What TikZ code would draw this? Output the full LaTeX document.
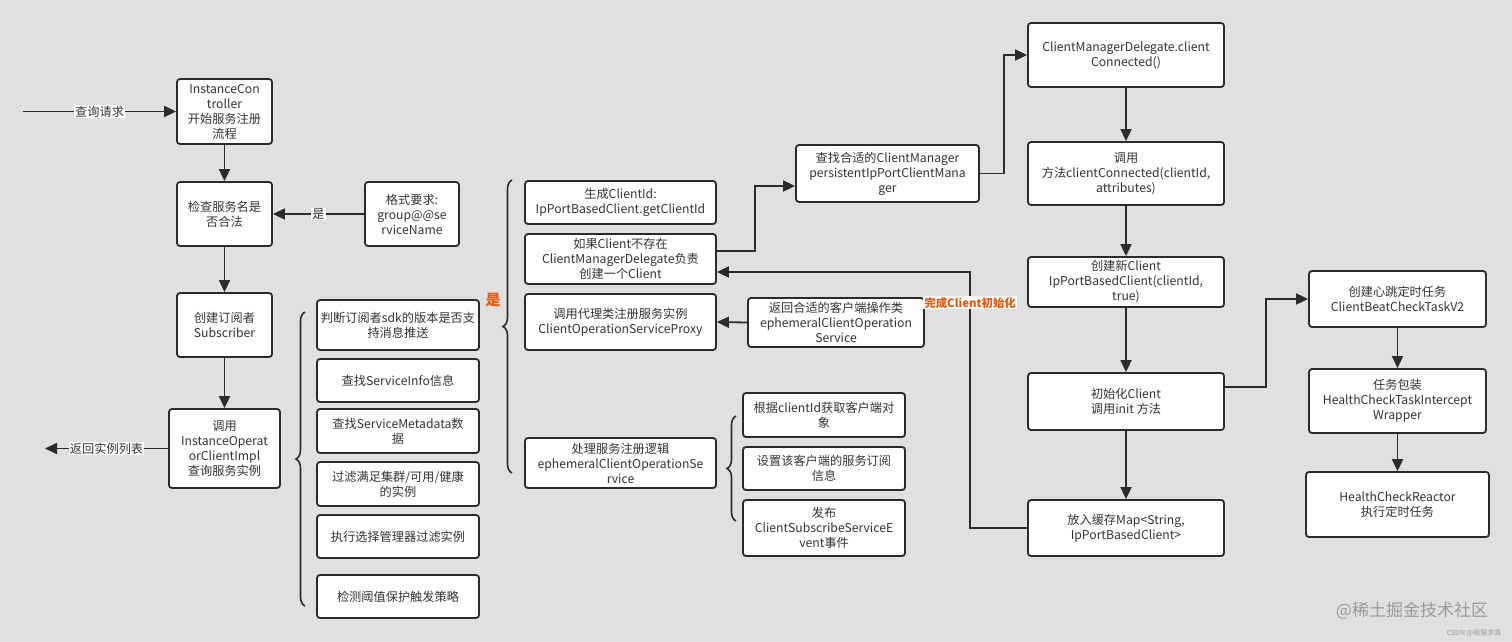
\documentclass[tikz,border=0pt]{standalone}
\usepackage{fontspec}
\setmainfont{Noto Sans CJK SC}
\usetikzlibrary{arrows.meta,decorations.pathreplacing,calc}
\definecolor{bgc}{HTML}{E0E0E0}
\definecolor{linec}{HTML}{2B2B2B}
\definecolor{txt}{HTML}{333333}
\definecolor{orng}{HTML}{E8590C}
\definecolor{wm}{HTML}{9A9A9A}
\newcommand{\fsz}{\fontsize{12.2}{15}\selectfont}
\tikzset{
  box/.style={draw=linec, line width=1.8pt, rounded corners=3pt, fill=white, align=center, inner sep=0pt, font=\fsz, text=txt},
  arr/.style={draw=linec, line width=1.8pt, -{Triangle[length=12pt,width=11pt]}},
  lbl/.style={fill=white, inner sep=1pt, font=\fsz, text=txt},
  olbl/.style={fill=white, inner sep=1pt, font=\fontsize{11.4}{14}\selectfont\bfseries, text=orng},
  brc/.style={draw=linec, line width=1.6pt, decorate, decoration={brace, amplitude=9pt}},
}
\begin{document}
\begin{tikzpicture}[x=1pt,y=1pt]
\fill[bgc] (0,0) rectangle (1512,-642);
\useasboundingbox (0,0) rectangle (1512,-642);

% left column
\node[box, minimum width=95, minimum height=65] (ic) at (224.5,-111.5) {InstanceCon\\troller\\开始服务注册\\流程};
\node[box, minimum width=95, minimum height=64] (chk) at (224.5,-214) {检查服务名是\\否合法};
\node[box, minimum width=94, minimum height=64] (fmt) at (412,-214) {格式要求:\\group@@se\\rviceName};
\node[box, minimum width=95, minimum height=64] (sub) at (224.5,-325) {创建订阅者\\Subscriber};
\node[box, minimum width=111, minimum height=79] (inv) at (224.5,-448.5) {调用\\InstanceOperat\\orClientImpl\\查询服务实例};

\coordinate (qstart) at (23,-111.5);
\coordinate (rend) at (45,-448.5);
\draw[arr] (qstart) -- node[lbl]{查询请求} (ic.west);
\draw[arr] (ic.south) -- (chk.north);
\draw[arr] (fmt.west) -- node[lbl]{是} (chk.east);
\draw[arr] (chk.south) -- (sub.north);
\draw[arr] (sub.south) -- (inv.north);
\draw[arr] (inv.west) -- node[lbl]{返回实例列表} (rend);

% left list
\node[box, minimum width=162, minimum height=50] (l1) at (398,-325) {判断订阅者sdk的版本是否支\\持消息推送};
\node[box, minimum width=162, minimum height=43] (l2) at (398,-380.5) {查找ServiceInfo信息};
\node[box, minimum width=162, minimum height=44] (l3) at (398,-431) {查找ServiceMetadata数\\据};
\node[box, minimum width=162, minimum height=44] (l4) at (398,-484) {过滤满足集群/可用/健康\\的实例};
\node[box, minimum width=162, minimum height=43] (l5) at (398,-536.5) {执行选择管理器过滤实例};
\node[box, minimum width=162, minimum height=43] (l6) at (398,-596.5) {检测阈值保护触发策略};
\draw[brc] (305,-606) -- (305,-312);

% middle column
\node[box, minimum width=191, minimum height=43] (m1) at (620.5,-202.5) {生成ClientId:\\IpPortBasedClient.getClientId};
\node[box, minimum width=191, minimum height=50] (m2) at (620.5,-259) {如果Client不存在\\ClientManagerDelegate负责\\创建一个Client};
\node[box, minimum width=191, minimum height=56] (m3) at (620.5,-322) {调用代理类注册服务实例\\ClientOperationServiceProxy};
\node[box, minimum width=191, minimum height=50] (m4) at (620.5,-463) {处理服务注册逻辑\\ephemeralClientOperationSe\\rvice};
\draw[brc] (512,-473) -- (512,-180);
\node[olbl, fill=none, font=\fontsize{15}{17}\selectfont\bfseries] (yes2) at (493,-300) {是};

\node[box, minimum width=176, minimum height=49] (ret) at (836,-322.5) {返回合适的客户端操作类\\ephemeralClientOperation\\Service};
\draw[arr] (ret.west) -- (m3.east);

\node[box, minimum width=162, minimum height=44] (s1) at (824,-415) {根据clientId获取客户端对\\象};
\node[box, minimum width=162, minimum height=43] (s2) at (824,-468.5) {设置该客户端的服务订阅\\信息};
\node[box, minimum width=162, minimum height=56] (s3) at (824,-528) {发布\\ClientSubscribeServiceE\\vent事件};
\draw[brc] (736,-521) -- (736,-416);

% client manager
\node[box, minimum width=183, minimum height=57] (cm) at (887.5,-173.5) {查找合适的ClientManager\\persistentIpPortClientMana\\ger};
\draw[arr] ([yshift=8]m2.east) -- ++(38,0) |- ([yshift=-12.5]cm.west);

% right column
\node[box, minimum width=196, minimum height=64] (cmd) at (1126,-55) {ClientManagerDelegate.client\\Connected()};
\node[box, minimum width=196, minimum height=63] (cc) at (1126,-173.5) {调用\\方法clientConnected(clientId,\\attributes)};
\node[box, minimum width=196, minimum height=50] (nc) at (1126,-282) {创建新Client\\IpPortBasedClient(clientId,\\true)};
\node[box, minimum width=196, minimum height=57] (ini) at (1126,-401.5) {初始化Client\\调用init 方法};
\node[box, minimum width=196, minimum height=56] (put) at (1126,-528) {放入缓存Map<String,\\IpPortBasedClient>};
\draw[arr] (cm.east) -- ++(24,0) |- (cmd.west);
\draw[arr] (cmd.south) -- (cc.north);
\draw[arr] (cc.south) -- (nc.north);
\draw[arr] (nc.south) -- (ini.north);
\draw[arr] (ini.south) -- (put.north);
\draw[arr] (put.west) -- ++(-57,0) |- node[pos=0.44, olbl]{完成Client初始化} ([yshift=-13]m2.east);

% health check
\node[box, minimum width=177, minimum height=56] (hb) at (1397.5,-299) {创建心跳定时任务\\ClientBeatCheckTaskV2};
\node[box, minimum width=177, minimum height=64] (tw) at (1397.5,-401) {任务包装\\HealthCheckTaskIntercept\\Wrapper};
\node[box, minimum width=183, minimum height=65] (hr) at (1397.5,-504.5) {HealthCheckReactor\\执行定时任务};
\draw[arr] ([yshift=14.5]ini.east) -- ++(41,0) |- (hb.west);
\draw[arr] (hb.south) -- (tw.north);
\draw[arr] (tw.south) -- (hr.north);

% watermarks
\node[text=wm, font=\fontsize{17}{20}\selectfont, inner sep=0pt] (wm1) at (1412,-611) {@稀土掘金技术社区};
\node[text=wm, font=\fontsize{7}{8}\selectfont, inner sep=0pt] (wm2) at (1474,-633) {CSDN @极限求真};
\end{tikzpicture}
\end{document}
